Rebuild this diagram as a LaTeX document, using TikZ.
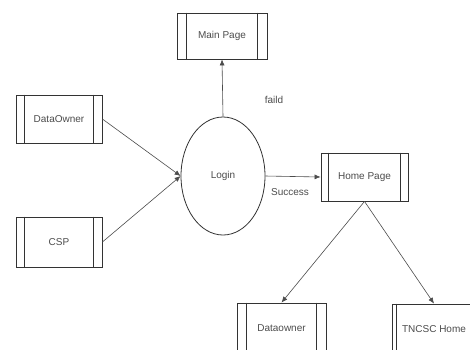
\documentclass[tikz,border=0pt]{standalone}
\usepackage{fontspec}
\setmainfont{Liberation Sans}
\usetikzlibrary{arrows.meta,shapes.geometric}
\begin{document}
\begin{tikzpicture}[x=1pt,y=-1pt,
  lc/.style={draw=black!80, line width=0.8pt},
  pagebox/.style={lc, rectangle, inner sep=0pt, text=black!70, font=\fontsize{10}{11}\selectfont},
  loginnode/.style={lc, ellipse, minimum width=84pt, minimum height=118pt, inner sep=0pt, text=black!70, font=\fontsize{10}{11}\selectfont},
  conn/.style={draw=black!70, line width=0.6pt, -{Latex[length=6pt,width=5pt]}},
  lbl/.style={text=black!70, font=\fontsize{10}{11}\selectfont}]
\clip (0,0) rectangle (470,349);
\fill[white] (0,0) rectangle (470,349);
% boxes
\node[pagebox, minimum width=90pt, minimum height=46pt] (MP) at (222,36) {Main Page};
\node[pagebox, minimum width=86pt, minimum height=48pt] (DO) at (59,119) {DataOwner};
\node[pagebox, minimum width=86pt, minimum height=50pt] (CSP) at (59,242) {CSP};
\node[pagebox, minimum width=87pt, minimum height=48pt] (HP) at (364.5,177) {Home Page};
\node[pagebox, minimum width=89pt, minimum height=50pt] (DW) at (281.5,328) {Dataowner};
\node[pagebox, minimum width=84pt, minimum height=50pt] (TN) at (434,329) {TNCSC Home};
\node[loginnode] (L) at (223,176) {Login};
% stripes
\foreach \n/\d in {MP/10,DO/9,CSP/9,HP/8,DW/10}{
  \draw[lc] ([xshift=\d pt]\n.north west) -- ([xshift=\d pt]\n.south west);
  \draw[lc] ([xshift=-\d pt]\n.north east) -- ([xshift=-\d pt]\n.south east);
}
\draw[lc] ([xshift=5pt]TN.north west) -- ([xshift=5pt]TN.south west);
% connectors
\draw[conn] (L.north) -- (MP.south);
\draw[conn] (DO.east) -- (L.west);
\draw[conn] (CSP.east) -- (L.west);
\draw[conn] (L.east) -- (HP.west);
\draw[conn] (HP.south) -- (DW.north);
\draw[conn] (HP.south) -- (TN.north);
% labels
\node[lbl] (faild) at (274,100) {faild};
\node[lbl] (succ) at (290,192) {Success};
\end{tikzpicture}
\end{document}
